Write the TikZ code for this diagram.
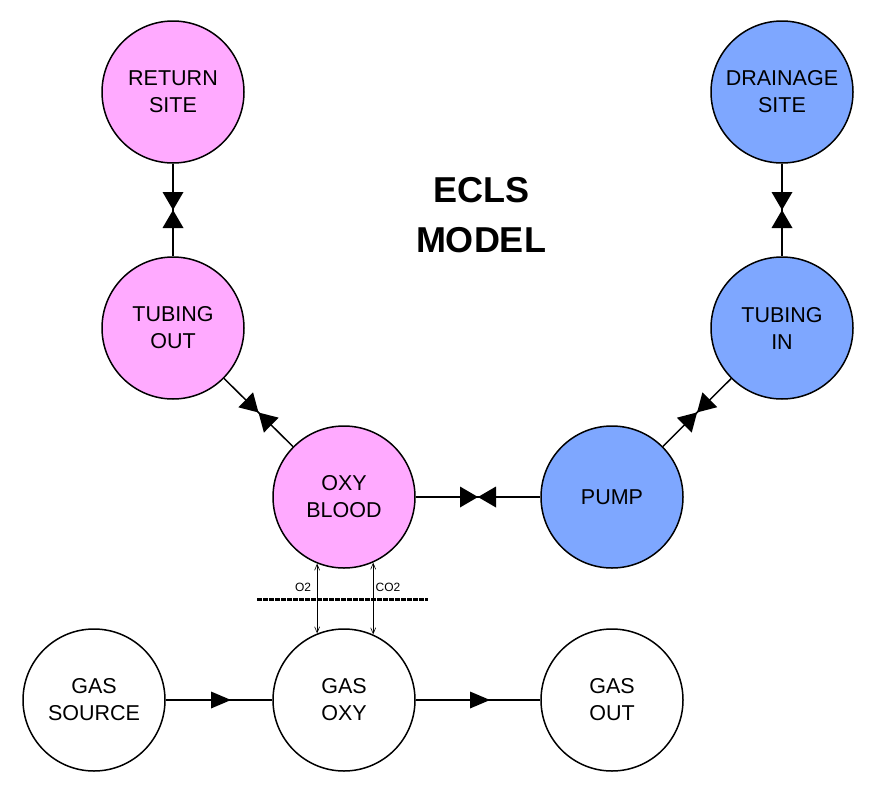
\documentclass[tikz,border=0pt]{standalone}
\usepackage{fontspec}
\setmainfont{Liberation Sans}
\usetikzlibrary{arrows.meta,decorations.markings}
\definecolor{pinkfill}{RGB}{255,170,255}
\definecolor{bluefill}{RGB}{126,167,255}
\begin{document}
\begin{tikzpicture}[x=1pt,y=-1pt,
  site/.style={circle,draw,line width=1.5pt,minimum size=142pt,inner sep=0pt,align=center,font=\fontsize{21.5}{27}\selectfont},
  pinknode/.style={site,fill=pinkfill},
  bluenode/.style={site,fill=bluefill},
  whitenode/.style={site,fill=white},
  conn/.style={line width=1.5pt},
  valve/.style={conn,postaction={decorate},decoration={markings,mark=at position 0.5 with {\fill (-18pt,-10.5pt) -- (18pt,10.5pt) -- (18pt,-10.5pt) -- (-18pt,10.5pt) -- cycle;}}},
  flow/.style={conn,postaction={decorate},decoration={markings,mark=at position 0.5 with {\fill (-8pt,-8.5pt) -- (12pt,0pt) -- (-8pt,8.5pt) -- cycle;}}},
  gasx/.style={line width=0.6pt,{Straight Barb[length=6pt,width=5pt]}-{Straight Barb[length=6pt,width=5pt]}},
  membrane/.style={line width=3pt,dash pattern=on 4.5pt off 1.5pt},
  small/.style={font=\fontsize{12}{14}\selectfont,inner sep=0pt},
  title/.style={font=\bfseries\fontsize{36}{50}\selectfont,align=center,inner sep=0pt}
]
\useasboundingbox (0,0) rectangle (875,795);

\node[pinknode] (rs) at (173,92) {RETURN\\SITE};
\node[bluenode] (ds) at (782,92) {DRAINAGE\\SITE};
\node[pinknode] (to) at (173,328) {TUBING\\OUT};
\node[bluenode] (ti) at (782,328) {TUBING\\IN};
\node[pinknode] (ob) at (344,497) {OXY\\BLOOD};
\node[bluenode] (pu) at (612,497) {PUMP};
\node[whitenode] (gs) at (94,700) {GAS\\SOURCE};
\node[whitenode] (go) at (344,700) {GAS\\OXY};
\node[whitenode] (gt) at (612,700) {GAS\\OUT};

\node[title] (tt) at (481,215) {ECLS\\MODEL};

\draw[valve] (rs) -- (to);
\draw[valve] (ds) -- (ti);
\draw[valve] (to) -- (ob);
\draw[valve] (ti) -- (pu);
\draw[valve] (ob) -- (pu);

\draw[flow] (gs) -- (go);
\draw[flow] (go) -- (gt);

\coordinate (m1) at (257,599);
\coordinate (m2) at (428,599);
\draw[membrane] (m1) -- (m2);

\draw[gasx] (ob.-112.4) -- (go.112.4);
\draw[gasx] (ob.-66.8) -- (go.66.8);

\node[small] (o2) at (303,587) {O2};
\node[small] (co2) at (388,587) {CO2};
\end{tikzpicture}
\end{document}
